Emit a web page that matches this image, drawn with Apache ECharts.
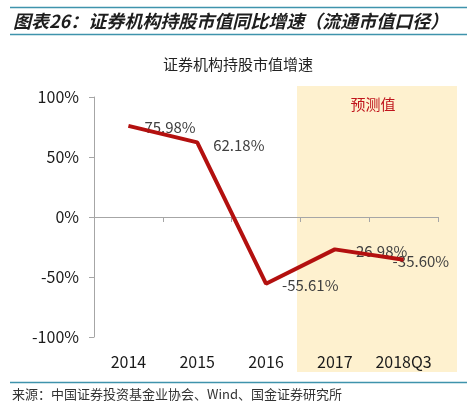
<!DOCTYPE html>
<html>
<head>
<meta charset="utf-8">
<script src="https://cdn.jsdelivr.net/npm/echarts@6/dist/echarts.min.js"></script>
<style>
  html, body { margin: 0; padding: 0; background: #fff; }
  #chart { width: 471px; height: 412px; }
</style>
</head>
<body>
<div id="chart"></div>
<script>
var categories = ['2014', '2015', '2016', '2017', '2018Q3'];
var growth = [75.98, 62.18, -55.61, -26.98, -35.60];
var yMin = -100;
var yMax = 100;
var yStep = 50;

var FONT = '"Noto Sans CJK SC", "Noto Sans", sans-serif';
var RULE = '#3f93ac';
var RED = '#b3100f';

// per-point label nudges (the last label sits left of its point)
var labelNudge = [[0, 1], [0, 3], [0, 2], [0, 2], [-27, 2]];

var labelData = [];
for (var i = 0; i < growth.length; i++) {
    labelData.push({
        value: growth[i],
        label: { offset: labelNudge[i] }
    });
}

var chart = echarts.init(document.getElementById('chart'));

var option = {
    animation: false,
    grid: { left: 94, right: 33, top: 97, bottom: 75 },
    xAxis: [{
        type: 'category',
        data: categories,
        position: 'bottom',
        boundaryGap: true,
        axisLine: { onZero: true, lineStyle: { color: '#a6a6a6', width: 1 } },
        axisTick: { show: true, length: 5, interval: 0, lineStyle: { color: '#a6a6a6' } },
        axisLabel: { show: false }
    }, {
        type: 'category',
        data: categories,
        position: 'bottom',
        axisLine: { show: false, onZero: false },
        axisTick: { show: false },
        axisLabel: { interval: 0, margin: 17, fontSize: 16, color: '#1a1a1a', fontFamily: FONT }
    }],
    yAxis: {
        type: 'value',
        min: yMin,
        max: yMax,
        interval: yStep,
        axisLine: { show: true, lineStyle: { color: '#a6a6a6' } },
        axisTick: { show: true, length: 5, lineStyle: { color: '#a6a6a6' } },
        splitLine: { show: false },
        axisLabel: {
            margin: 15,
            fontSize: 16,
            color: '#1a1a1a',
            fontFamily: FONT,
            formatter: function (v) { return v + '%'; }
        }
    },
    graphic: [
        { type: 'rect', z: -10, shape: { x: 297, y: 86, width: 160, height: 286 }, style: { fill: '#fef1cf' } },
        { type: 'line', shape: { x1: 10, y1: 7.5, x2: 467, y2: 7.5 }, style: { stroke: RULE, lineWidth: 1.5 } },
        { type: 'line', shape: { x1: 10, y1: 34.5, x2: 467, y2: 34.5 }, style: { stroke: RULE, lineWidth: 1.5 } },
        { type: 'line', shape: { x1: 10, y1: 382.5, x2: 467, y2: 382.5 }, style: { stroke: RULE, lineWidth: 1.5 } },
        {
            type: 'text', x: 13, y: 21,
            style: {
                text: '图表26：证券机构持股市值同比增速（流通市值口径）',
                fill: '#1e1e1e', font: 'italic bold 18px ' + FONT, textVerticalAlign: 'middle'
            }
        },
        {
            type: 'text', x: 238, y: 64,
            style: {
                text: '证券机构持股市值增速', fill: '#222',
                font: '15px ' + FONT, textAlign: 'center', textVerticalAlign: 'middle'
            }
        },
        {
            type: 'text', x: 373, y: 104,
            style: {
                text: '预测值', fill: '#c0141c',
                font: '15px ' + FONT, textAlign: 'center', textVerticalAlign: 'middle'
            }
        },
        {
            type: 'text', x: 12, y: 394,
            style: {
                text: '来源：中国证券投资基金业协会、Wind、国金证券研究所', fill: '#333',
                font: '13px ' + FONT, textVerticalAlign: 'middle'
            }
        }
    ],
    series: [{
        name: 'labels',
        type: 'line',
        z: 2,
        data: labelData,
        symbol: 'circle',
        symbolSize: 2,
        showSymbol: true,
        itemStyle: { color: 'rgba(0,0,0,0)' },
        lineStyle: { opacity: 0 },
        label: {
            show: true,
            position: 'right',
            distance: 15,
            fontSize: 15,
            color: '#404040',
            fontFamily: FONT,
            formatter: function (p) { return p.value.toFixed(2) + '%'; }
        },
        silent: true
    }, {
        name: '证券机构持股市值增速',
        type: 'line',
        z: 3,
        data: growth,
        symbol: 'none',
        lineStyle: { color: RED, width: 4 }
    }]
};

option && chart.setOption(option);
</script>
</body>
</html>
